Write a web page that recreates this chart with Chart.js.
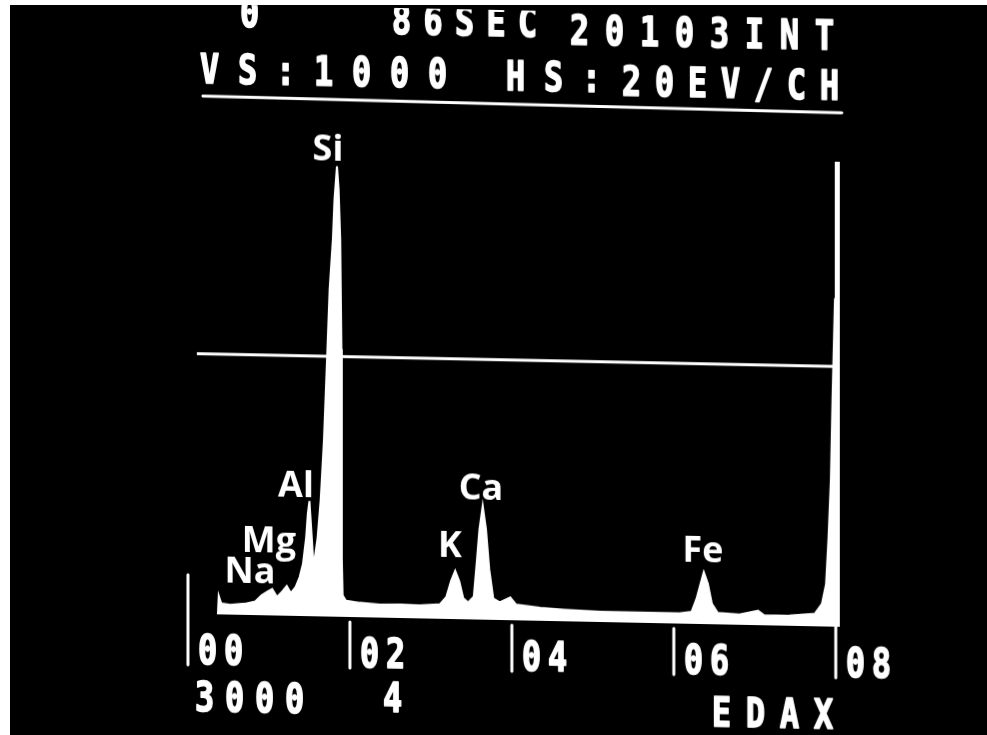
<!DOCTYPE html>
<html><head><meta charset="utf-8">
<script src="https://cdn.jsdelivr.net/npm/chart.js@4.4.1/dist/chart.umd.min.js"></script>
<style>
html,body{margin:0;padding:0;background:#fff;width:987px;height:735px;overflow:hidden}
#bg{position:absolute;left:10px;top:5px;width:977px;height:730px;background:#000}
#wrap{position:absolute;left:0;top:0;width:987px;height:735px;transform:skewY(1.146deg);transform-origin:0 0}
canvas{display:block}
</style></head><body>
<div id="bg"></div>
<div id="wrap"><canvas id="c" width="987" height="735"></canvas></div>
<script>
// ---- data ----
const energyKeV = [0.37,0.38,0.41,0.52,0.70,0.83,0.91,0.99,1.04,1.10,1.17,1.22,1.27,1.33,1.38,1.42,1.46,1.48,1.50,1.51,1.53,1.55,1.60,1.64,1.68,1.72,1.75,1.79,1.81,1.84,1.86,1.88,1.895,1.90,1.91,1.95,2.12,2.37,2.62,2.86,3.11,3.19,3.25,3.30,3.35,3.40,3.46,3.53,3.57,3.60,3.64,3.68,3.72,3.77,3.85,3.98,4.05,4.35,4.65,5.09,5.58,6.07,6.22,6.28,6.33,6.37,6.42,6.47,6.54,6.81,7.04,7.12,7.43,7.74,7.83,7.88,7.91,7.94,7.96,7.99,8.00,8.05];
const counts    = [0,40,24,21,24,29,43,52,57,40,53,64,49,62,84,112,170,220,248,220,166,106,167,253,382,565,706,814,900,971,922,814,577,124,46,35,31,28,29,28,31,47,82,104,82,45,36,49,130,195,245,195,109,46,38,49,34,28,25,22,22,22,26,54,86,112,87,44,25,22,31,21,22,27,49,91,189,318,491,706,1000,1000];
const markerLevel = 561;
const markerRangeKeV = [0.11, 8.0];
const tickValues = [0, 2, 4, 6, 8];
const tickLabels = ['00', '02', '04', '06', '08'];
const peakElements = ['Na', 'Mg', 'Al', 'Si', 'K', 'Ca', 'Fe'];
const peakEnergies = [1.04, 1.25, 1.49, 1.74, 3.31, 3.69, 6.40];
const headerRow1 = ['0', '86SEC', '20103INT'];
const headerRow2 = ['VS:1000', 'HS:', '20EV/CH'];
const footerTexts = ['3000', '4', 'EDAX'];

// ---- layout (pixel placement of annotations) ----
const LABEL_POS = {Na:[250,578], Mg:[269,547], Al:[296,491], Si:[328,154], K:[450,548], Ca:[481,490], Fe:[703,548]};
const ROW1_POS = [[240,22,0],[392,26,31.5],[570,33,35]];
const ROW2_POS = [[200,79,38],[506,80,38],[622,83,33]];
const FOOT_POS = [[195,707,30],[383,704,0],[712,712,34]];

function monoText(ctx, s, x, y, adv) {
  ctx.save();
  ctx.font = 'bold 40px "DejaVu Sans Mono"';
  const sx = 0.8;
  const w1 = ctx.measureText('0').width;
  ctx.translate(x, y);
  ctx.scale(sx, 1);
  if (adv) ctx.letterSpacing = (adv / sx - w1) + 'px';
  ctx.fillStyle = '#fff';
  ctx.strokeStyle = '#fff';
  ctx.lineWidth = 1.6;
  ctx.lineJoin = 'round';
  ctx.textAlign = 'left';
  ctx.textBaseline = 'alphabetic';
  ctx.fillText(s, 0, 0);
  ctx.strokeText(s, 0, 0);
  ctx.restore();
}

const annot = {
  id: 'annot',
  afterDraw(chart) {
    const ctx = chart.ctx;
    const xs = chart.scales.x, ys = chart.scales.y;
    const base = ys.getPixelForValue(0);
    ctx.save();
    ctx.strokeStyle = '#fff';
    ctx.fillStyle = '#fff';
    ctx.lineCap = 'round';
    // ticks
    ctx.lineWidth = 3;
    tickValues.forEach((v, i) => {
      const px = xs.getPixelForValue(v);
      const top = i === 0 ? base - 39 : (i === tickValues.length - 1 ? base - 5 : base + 5);
      ctx.beginPath();
      ctx.moveTo(px, top);
      ctx.lineTo(px, base + 51);
      ctx.stroke();
      monoText(ctx, tickLabels[i], px + 10, base + 50, 26);
    });
    // header rule
    ctx.lineWidth = 3;
    ctx.beginPath();
    ctx.moveTo(203, 92);
    ctx.lineTo(842, 96);
    ctx.stroke();
    headerRow1.forEach((s, i) => monoText(ctx, s, ROW1_POS[i][0], ROW1_POS[i][1], ROW1_POS[i][2]));
    headerRow2.forEach((s, i) => monoText(ctx, s, ROW2_POS[i][0], ROW2_POS[i][1], ROW2_POS[i][2]));
    footerTexts.forEach((s, i) => monoText(ctx, s, FOOT_POS[i][0], FOOT_POS[i][1], FOOT_POS[i][2]));
    // peak labels
    ctx.font = 'bold 36px "Open Sans"';
    ctx.textAlign = 'center';
    ctx.textBaseline = 'alphabetic';
    peakElements.forEach(el => {
      const p = LABEL_POS[el];
      ctx.fillText(el, p[0], p[1]);
    });
    ctx.restore();
  }
};

new Chart(document.getElementById('c'), {
  type: 'line',
  data: {
    datasets: [
      {
        label: 'Spectrum',
        data: energyKeV.map((e, i) => ({x: e, y: counts[i]})),
        borderColor: '#fff',
        backgroundColor: '#fff',
        borderWidth: 2,
        fill: 'origin',
        pointRadius: 0,
        tension: 0,
        clip: false
      },
      {
        label: 'Marker',
        data: markerRangeKeV.map(e => ({x: e, y: markerLevel})),
        borderColor: '#fff',
        borderWidth: 3,
        fill: false,
        pointRadius: 0,
        clip: false
      }
    ]
  },
  options: {
    responsive: false,
    animation: false,
    devicePixelRatio: 1,
    layout: {padding: {left: 188, right: 147, top: 146, bottom: 125}},
    plugins: {legend: {display: false}, tooltip: {enabled: false}, title: {display: false}},
    scales: {
      x: {type: 'linear', min: 0, max: 8.05, display: false},
      y: {min: 0, max: 1000, display: false}
    }
  },
  plugins: [annot]
});
</script>
</body></html>
